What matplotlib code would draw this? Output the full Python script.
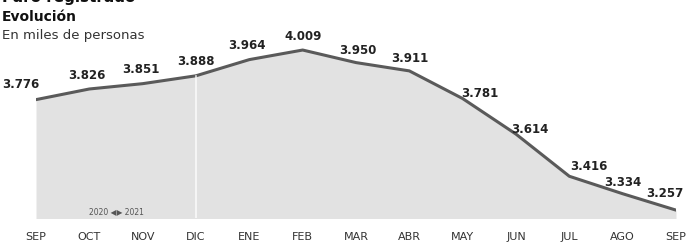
import numpy as np
import matplotlib.pyplot as plt

# Paro registrado, miles de personas (sep 2020 - sep 2021)
months = ['SEP', 'OCT', 'NOV', 'DIC', 'ENE', 'FEB', 'MAR', 'ABR', 'MAY', 'JUN', 'JUL', 'AGO', 'SEP']
values = [3.776, 3.826, 3.851, 3.888, 3.964, 4.009, 3.950, 3.911, 3.781, 3.614, 3.416, 3.334, 3.257]
labels = ['3.776', '3.826', '3.851', '3.888', '3.964', '4.009', '3.950', '3.911', '3.781', '3.614', '3.416', '3.334', '3.257']

# label offsets in points (dx, dy)
offsets = [(-11, 11), (-2, 10), (-1, 10), (0, 10), (-2, 10), (0, 10), (1, 9), (0, 9),
           (12, 4), (10, 3), (14, 7), (0, 8), (-8, 12)]

x = np.arange(len(months))

fig = plt.figure(figsize=(6.89, 2.43), dpi=100)
ax = fig.add_axes([36 / 689, 25 / 243, 640 / 689, 218 / 243])

ax.fill_between(x, values, 3.0, color='#e2e2e2', linewidth=0)
ax.plot(x, values, color='#5a5a5a', linewidth=2.2, solid_capstyle='round')
ax.plot([3, 3], [3.0, values[3]], color='white', linewidth=1.2, alpha=0.8)

for xi, v, lab, (dx, dy) in zip(x, values, labels, offsets):
    ax.annotate(lab, (xi, v), xytext=(dx, dy), textcoords='offset points',
                ha='center', va='center', fontsize=8.5, fontweight='bold',
                color='#222222')

ax.text(1.5, 3.25, '2020 \u25c0\u25b6 2021', ha='center', va='center',
        fontsize=5.5, color='#555555')

ax.set_xlim(0, 12)
ax.set_ylim(3.22, 4.244)
ax.set_xticks(x)
ax.set_xticklabels(months, fontsize=8, color='#333333')
ax.tick_params(axis='x', length=0, pad=10)
ax.set_yticks([])
for s in ax.spines.values():
    s.set_visible(False)
ax.patch.set_alpha(0)

fig.text(2 / 689, 1 - 2 / 243, 'Paro registrado', fontsize=11, fontweight='bold',
         va='baseline', ha='left', color='#111111')
fig.text(2 / 689, 1 - 17 / 243, 'Evolución', fontsize=10, fontweight='bold',
         va='center', ha='left', color='#111111')
fig.text(2 / 689, 1 - 36 / 243, 'En miles de personas', fontsize=9.5,
         va='center', ha='left', color='#333333')

fig.savefig('out.png', dpi=100)
